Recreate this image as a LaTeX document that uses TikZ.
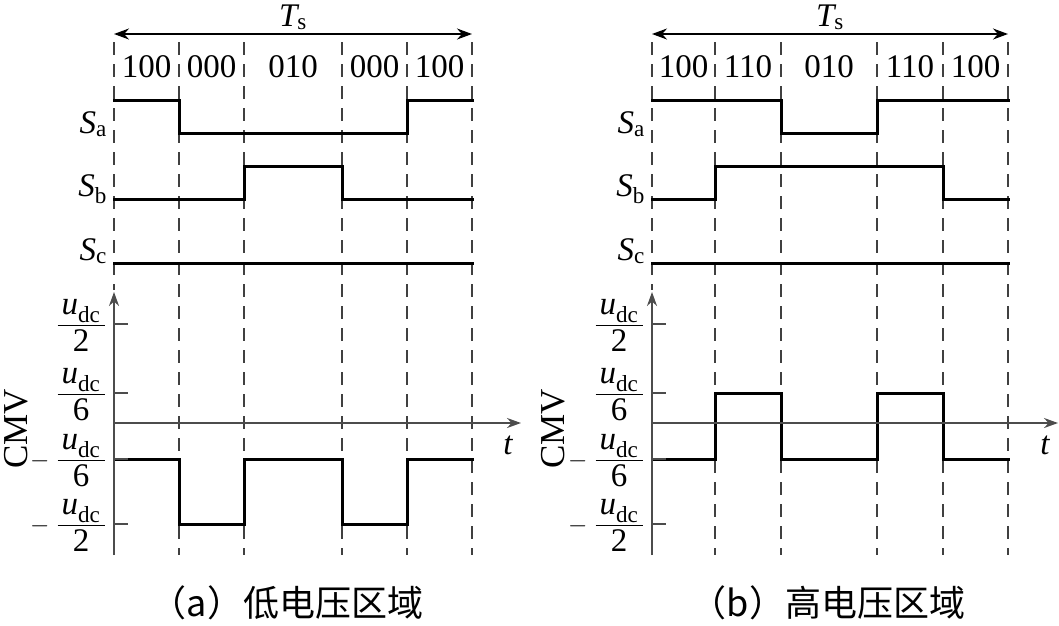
\documentclass[tikz,border=0pt]{standalone}
\usepackage{fontspec}
\usepackage{amsmath}
\setmainfont{Liberation Serif}
\newfontfamily\cjk{Noto Sans CJK SC}
\usetikzlibrary{arrows.meta}
\begin{document}
\begin{tikzpicture}[x=1pt,y=-1pt,
  wave/.style={line width=3pt, line join=miter, line cap=rect},
  dashline/.style={line width=1.8pt, black!75, dash pattern=on 13pt off 9pt},
  axisline/.style={line width=2pt, black!70},
  dimarrow/.style={line width=1.6pt, {Stealth[length=15pt,width=11pt]}-{Stealth[length=15pt,width=11pt]}},
  axarrow/.style={line width=2pt, black!70, -{Stealth[length=14pt,width=10pt]}},
  lab/.style={inner sep=0pt, font=\fontsize{33}{39}\selectfont},
  cmv/.style={inner sep=0pt, rotate=90, font=\fontsize{35}{40}\selectfont},
  captext/.style={inner sep=0pt, font=\cjk\fontsize{36}{42}\selectfont}]
\useasboundingbox (0,0) rectangle (1059,625);

% ---------------- panel (a) ----------------
\foreach \x in {179,244,342,407,472} \draw[dashline] (\x,42) -- (\x,555);
\draw[dashline] (114,42) -- (114,290);
\coordinate (aTl) at (114,34); \coordinate (aTr) at (472,34);
\draw[dimarrow] (aTl) -- (aTr);
\node[lab, anchor=base] (aTs) at (293,26) {$\textit{T}_{\text{s}}$};
\node[lab] (a1) at (146.5,67) {100};
\node[lab] (a2) at (211.5,67) {000};
\node[lab] (a3) at (293,67) {010};
\node[lab] (a4) at (374.5,67) {000};
\node[lab] (a5) at (439.5,67) {100};
\node[lab, anchor=base east] (aSa) at (107,133) {$\textit{S}_{\text{a}}$};
\node[lab, anchor=base east] (aSb) at (107,196) {$\textit{S}_{\text{b}}$};
\node[lab, anchor=base east] (aSc) at (107,260) {$\textit{S}_{\text{c}}$};
\draw[wave] (114,100) -- (179,100) -- (179,133) -- (407,133) -- (407,100) -- (472,100);
\draw[wave] (114,199) -- (244,199) -- (244,166) -- (342,166) -- (342,199) -- (472,199);
\draw[wave] (114,263) -- (472,263);
\draw[wave] (114,459) -- (179,459) -- (179,524) -- (244,524) -- (244,459) -- (342,459) -- (342,524) -- (407,524) -- (407,459) -- (472,459);
\coordinate (aO) at (114,555); \coordinate (aY) at (114,292);
\coordinate (aX0) at (114,423); \coordinate (aX) at (521,423);
\draw[axarrow] (aO) -- (aY);
\draw[axarrow] (aX0) -- (aX);
\foreach \y in {324,393,459,524} \draw[axisline] (114,\y) -- (128,\y);
\node[lab] (at) at (508,445) {$\textit{t}$};
\node[lab, anchor=base east] (af1) at (106,332) {$\dfrac{\,\textit{u}_{\text{dc}}\,}{\text{2}}$};
\node[lab, anchor=base east] (af2) at (106,401) {$\dfrac{\,\textit{u}_{\text{dc}}\,}{\text{6}}$};
\node[lab, anchor=base east] (af3) at (106,467) {$-\;\dfrac{\,\textit{u}_{\text{dc}}\,}{\text{6}}$};
\node[lab, anchor=base east] (af4) at (106,532) {$-\;\dfrac{\,\textit{u}_{\text{dc}}\,}{\text{2}}$};
\node[cmv] (acmv) at (16,429) {CMV};
\node[captext] (acap) at (287,603) {（a）低电压区域};

% ---------------- panel (b) ----------------
\foreach \x in {715,781,877,943,1008} \draw[dashline] (\x,42) -- (\x,555);
\draw[dashline] (652,42) -- (652,290);
\coordinate (bTl) at (652,34); \coordinate (bTr) at (1008,34);
\draw[dimarrow] (bTl) -- (bTr);
\node[lab, anchor=base] (bTs) at (830,26) {$\textit{T}_{\text{s}}$};
\node[lab] (b1) at (683.5,67) {100};
\node[lab] (b2) at (748,67) {110};
\node[lab] (b3) at (829,67) {010};
\node[lab] (b4) at (910,67) {110};
\node[lab] (b5) at (975.5,67) {100};
\node[lab, anchor=base east] (bSa) at (645,133) {$\textit{S}_{\text{a}}$};
\node[lab, anchor=base east] (bSb) at (645,196) {$\textit{S}_{\text{b}}$};
\node[lab, anchor=base east] (bSc) at (645,260) {$\textit{S}_{\text{c}}$};
\draw[wave] (652,100) -- (781,100) -- (781,133) -- (877,133) -- (877,100) -- (1008,100);
\draw[wave] (652,199) -- (715,199) -- (715,166) -- (943,166) -- (943,199) -- (1008,199);
\draw[wave] (652,263) -- (1008,263);
\draw[wave] (652,459) -- (715,459) -- (715,393) -- (781,393) -- (781,459) -- (877,459) -- (877,393) -- (943,393) -- (943,459) -- (1008,459);
\coordinate (bO) at (652,555); \coordinate (bY) at (652,292);
\coordinate (bX0) at (652,423); \coordinate (bX) at (1058,423);
\draw[axarrow] (bO) -- (bY);
\draw[axarrow] (bX0) -- (bX);
\foreach \y in {324,393,459,524} \draw[axisline] (652,\y) -- (666,\y);
\node[lab] (bt) at (1045,445) {$\textit{t}$};
\node[lab, anchor=base east] (bf1) at (644,332) {$\dfrac{\,\textit{u}_{\text{dc}}\,}{\text{2}}$};
\node[lab, anchor=base east] (bf2) at (644,401) {$\dfrac{\,\textit{u}_{\text{dc}}\,}{\text{6}}$};
\node[lab, anchor=base east] (bf3) at (644,467) {$-\;\dfrac{\,\textit{u}_{\text{dc}}\,}{\text{6}}$};
\node[lab, anchor=base east] (bf4) at (644,532) {$-\;\dfrac{\,\textit{u}_{\text{dc}}\,}{\text{2}}$};
\node[cmv] (bcmv) at (553,429) {CMV};
\node[captext] (bcap) at (828,603) {（b）高电压区域};
\end{tikzpicture}
\end{document}
